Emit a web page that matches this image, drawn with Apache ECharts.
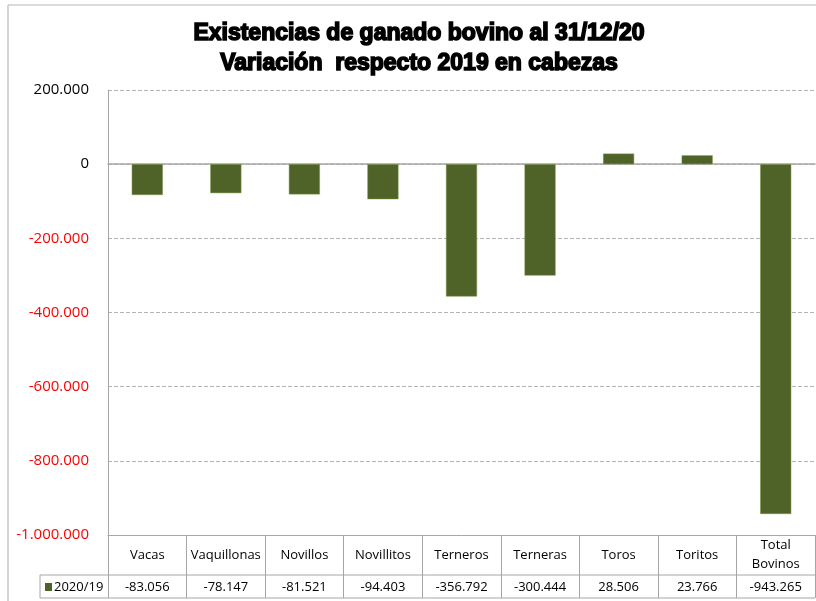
<!DOCTYPE html>
<html>
<head>
<meta charset="utf-8">
<script src="https://cdn.jsdelivr.net/npm/echarts@6/dist/echarts.min.js"></script>
<style>html,body{margin:0;padding:0;background:#fff;}#c{width:816px;height:601px;}</style>
</head>
<body>
<div id="c"></div>
<script>
const categories = ['Vacas','Vaquillonas','Novillos','Novillitos','Terneros','Terneras','Toros','Toritos','Total\nBovinos'];
const values2020_19 = [-83056,-78147,-81521,-94403,-356792,-300444,28506,23766,-943265];
const seriesName = '2020/19';
const titleLines = ['Existencias de ganado bovino al 31/12/20','Variación  respecto 2019 en cabezas'];

function fmt(v){
  const s = Math.abs(Math.round(v)).toString().replace(/\B(?=(\d{3})+(?!\d))/g,'.');
  return (v<0?'-':'')+s;
}
const barColor = '#4f6228';
const lineGray = '#a6a6a6';
const font = 'Open Sans';

const chart = echarts.init(document.getElementById('c'));
chart.setOption({
  animation:false,
  title:{
    text: titleLines.join('\n'),
    left: 414, top: 14, textAlign:'center',
    textStyle:{fontFamily:'Liberation Sans',fontWeight:'bold',fontSize:23,lineHeight:30,color:'#000',textBorderColor:'#000',textBorderWidth:1.6}
  },
  grid:{left:108,right:1,top:90,bottom:66},
  xAxis:[
    {type:'category',data:categories,position:'bottom',
     axisLine:{onZero:true,lineStyle:{color:lineGray,width:1.5}},axisTick:{show:false},axisLabel:{show:false}},
    {type:'category',data:categories,position:'bottom',
     axisLine:{onZero:false,lineStyle:{color:lineGray,width:1}},
     axisTick:{show:true,length:63,alignWithLabel:false,lineStyle:{color:lineGray}},
     axisLabel:{margin:20,verticalAlign:'middle',fontFamily:font,fontSize:13,lineHeight:19,color:'#000',interval:0}},
    {type:'category',data:values2020_19.map(fmt),position:'bottom',
     axisLine:{show:false},axisTick:{show:false},
     axisLabel:{margin:52,verticalAlign:'middle',fontFamily:font,fontSize:13,color:'#000',interval:0}}
  ],
  yAxis:{type:'value',min:-1000000,max:200000,interval:200000,
    axisLine:{show:true,lineStyle:{color:lineGray}},axisTick:{show:false},
    splitLine:{lineStyle:{type:'dashed',color:'#b4b4b4'}},
    axisLabel:{margin:19,fontFamily:font,fontSize:15,
      formatter:fmt,
      color:function(v){return v<0?'#ff0000':'#000';}}
  },
  series:[{name:seriesName,type:'bar',xAxisIndex:0,data:values2020_19,barWidth:31,
    itemStyle:{color:barColor,borderColor:'#76923c',borderWidth:0.5}}],
  graphic:[
    {type:'line',shape:{x1:8,y1:5,x2:8,y2:601},style:{stroke:'#b8b8b8',lineWidth:1.2}},
    {type:'line',shape:{x1:8,y1:5,x2:816,y2:5},style:{stroke:'#b8b8b8',lineWidth:1.2}},
    {type:'line',shape:{x1:40,y1:575,x2:815,y2:575},style:{stroke:lineGray,lineWidth:1}},
    {type:'line',shape:{x1:40,y1:598,x2:815,y2:598},style:{stroke:lineGray,lineWidth:1}},
    {type:'line',shape:{x1:40,y1:575,x2:40,y2:598},style:{stroke:lineGray,lineWidth:1}},
    {type:'rect',shape:{x:45,y:583,width:7,height:8},style:{fill:barColor}},
    {type:'text',x:54,y:587,style:{text:seriesName,fontFamily:font,fontSize:13,fill:'#000',verticalAlign:'middle'}}
  ]
});
</script>
</body>
</html>
